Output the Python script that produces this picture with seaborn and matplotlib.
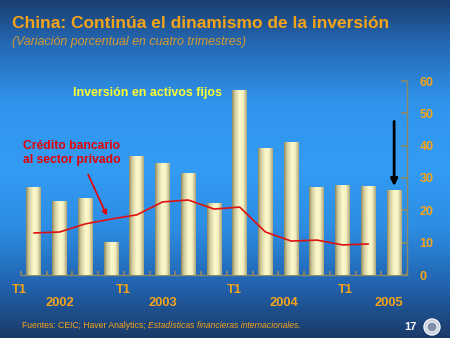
import numpy as np
import pandas as pd
import matplotlib
matplotlib.use("Agg")
import matplotlib.pyplot as plt
import seaborn as sns
from matplotlib.colors import LinearSegmentedColormap
from matplotlib.patches import Circle, FancyArrowPatch

sns.set_theme(style="white")
plt.rcParams["font.family"] = ["Liberation Sans", "DejaVu Sans"]

# Quarterly data, 2002 T1 – 2005 T3 (percent change over four quarters)
quarters = ["2002T1", "2002T2", "2002T3", "2002T4",
            "2003T1", "2003T2", "2003T3", "2003T4",
            "2004T1", "2004T2", "2004T3", "2004T4",
            "2005T1", "2005T2", "2005T3"]
fixed_investment = [27.2, 22.9, 23.8, 10.2, 36.8, 34.7, 31.6, 22.3,
                    57.3, 39.3, 41.2, 27.2, 27.9, 27.6, 26.3]
bank_credit = [13.0, 13.3, 15.8, 17.3, 18.6, 22.6, 23.2, 20.4,
               21.0, 13.3, 10.5, 10.8, 9.3, 9.6]
year_labels = ["2002", "2003", "2004", "2005"]
y_ticks = [0, 10, 20, 30, 40, 50, 60]

ORANGE = "#F5A418"
AXIS = "#8C8A66"

fig = plt.figure(figsize=(4.5, 3.38), dpi=100)

# slide background: vertical blue gradient (top of array = top of slide)
bg = fig.add_axes([0, 0, 1, 1], zorder=-10)
bg.set_axis_off()
bg_cmap = LinearSegmentedColormap.from_list(
    "slide", [(0.0, "#1A3E70"), (0.12, "#2466B0"), (0.3, "#3094EC"),
              (0.5, "#339CF4"), (0.68, "#2C8CE2"), (0.84, "#2264B0"),
              (1.0, "#1A3A68")])
grad = np.linspace(0, 1, 256).reshape(-1, 1)
bg.imshow(grad, aspect="auto", cmap=bg_cmap, extent=[0, 1, 0, 1],
          origin="upper")
bg.set_xlim(0, 1)
bg.set_ylim(0, 1)

ax = fig.add_axes([21 / 450, 1 - 275 / 338, 386 / 450, 194 / 338])
ax.patch.set_alpha(0)

df = pd.DataFrame({"quarter": quarters, "value": fixed_investment})
sns.barplot(data=df, x="quarter", y="value", ax=ax, color="#EEE8B0",
            width=0.58, saturation=1, edgecolor="none", zorder=2)

# cylindrical shading on each bar
bar_cmap = LinearSegmentedColormap.from_list(
    "cyl", [(0.0, "#8E8860"), (0.18, "#CFC99A"), (0.5, "#FCF8CC"),
            (0.75, "#F6F1C0"), (1.0, "#ACA67C")])
hgrad = np.linspace(0, 1, 64).reshape(1, -1)
for p in list(ax.patches):
    x0, y0 = p.get_x(), p.get_y()
    w, h = p.get_width(), p.get_height()
    im = ax.imshow(hgrad, cmap=bar_cmap, aspect="auto",
                   extent=[x0, x0 + w, y0, y0 + h], zorder=3)
    im.set_clip_path(p)

sns.lineplot(x=np.arange(len(bank_credit)), y=bank_credit, ax=ax,
             color="#E01010", linewidth=1.2, zorder=4)

ax.set_xlim(-0.5, len(quarters) - 0.5)
ax.set_ylim(0, 60)
ax.set_xlabel("")
ax.set_ylabel("")
for s in ["top", "left"]:
    ax.spines[s].set_visible(False)
for s in ["bottom", "right"]:
    ax.spines[s].set_color(AXIS)
    ax.spines[s].set_linewidth(1.0)

ax.yaxis.tick_right()
ax.set_yticks(y_ticks)
ax.set_yticklabels([str(t) for t in y_ticks], color=ORANGE,
                   fontsize=9, fontweight="bold")
ax.tick_params(axis="y", direction="in", length=4, color=AXIS, pad=9,
               right=True, left=False)
ax.set_xticks(np.arange(-0.5, len(quarters), 1.0))
ax.set_xticklabels([])
ax.tick_params(axis="x", direction="in", length=3, color=AXIS, bottom=True)
ax.grid(False)

# period labels below the axis
t1_pos = [-0.58, 3.46, 7.78, 12.09]
year_pos = [1.03, 5.0, 9.7, 13.8]
trans = ax.get_xaxis_transform()
for xp in t1_pos:
    ax.text(xp, -0.075, "T1", transform=trans, ha="center", va="center",
            color=ORANGE, fontsize=9.3, fontweight="bold", clip_on=False)
for xp, yl in zip(year_pos, year_labels):
    ax.text(xp, -0.145, yl, transform=trans, ha="center", va="center",
            color=ORANGE, fontsize=9.3, fontweight="bold", clip_on=False)

# series annotations
fig.text(147 / 450, 1 - 93 / 338, "Inversión en activos fijos",
         ha="center", va="center", color="#FFFF30", fontsize=8.9,
         fontweight="bold")
fig.text(23 / 450, 1 - 153 / 338, "Crédito bancario\nal sector privado",
         ha="left", va="center", color="#E80000", fontsize=8.7,
         fontweight="bold", linespacing=1.15)
fig.add_artist(FancyArrowPatch(
    (87 / 450, 1 - 172 / 338), (108 / 450, 1 - 218 / 338),
    transform=fig.transFigure, arrowstyle="-|>", mutation_scale=7,
    color="#E80000", linewidth=1.2))
ax.annotate("", xy=(14, 27.5), xytext=(14, 47.5),
            arrowprops=dict(arrowstyle="-|>", color="black", lw=2.0,
                            mutation_scale=10, shrinkA=0, shrinkB=0))

# title block
fig.text(12 / 450, 1 - 23 / 338, "China: Continúa el dinamismo de la inversión",
         ha="left", va="center", color=ORANGE, fontsize=12.5,
         fontweight="bold")
fig.text(12 / 450, 1 - 42 / 338, "(Variación porcentual en cuatro trimestres)",
         ha="left", va="center", color=ORANGE, fontsize=8.9,
         style="italic", alpha=0.85)

# footer
src = fig.text(22 / 450, 1 - 326 / 338, "Fuentes: CEIC; Haver Analytics; ",
               ha="left", va="center", color=ORANGE, fontsize=6.2)
fig.canvas.draw()
bb = src.get_window_extent()
fig.text(bb.x1 / fig.bbox.width, 1 - 326 / 338,
         "Estadísticas financieras internacionales.",
         ha="left", va="center", color=ORANGE, fontsize=6.2, style="italic")
fig.text(410 / 450, 1 - 327 / 338, "17", ha="center", va="center",
         color="white", fontsize=8, fontweight="bold")
logo_ax = fig.add_axes([423 / 450, 1 - 336 / 338, 18 / 450, 18 / 338])
logo_ax.set_axis_off()
logo_ax.set_xlim(-1, 1)
logo_ax.set_ylim(-1, 1)
logo_ax.set_aspect("equal")
logo_ax.add_patch(Circle((0, 0), 0.9, facecolor="#C8D0DC",
                         edgecolor="white", lw=0.8))
logo_ax.add_patch(Circle((0, 0), 0.55, facecolor="#8090A8",
                         edgecolor="white", lw=0.6))

fig.savefig("out.png", dpi=100)
